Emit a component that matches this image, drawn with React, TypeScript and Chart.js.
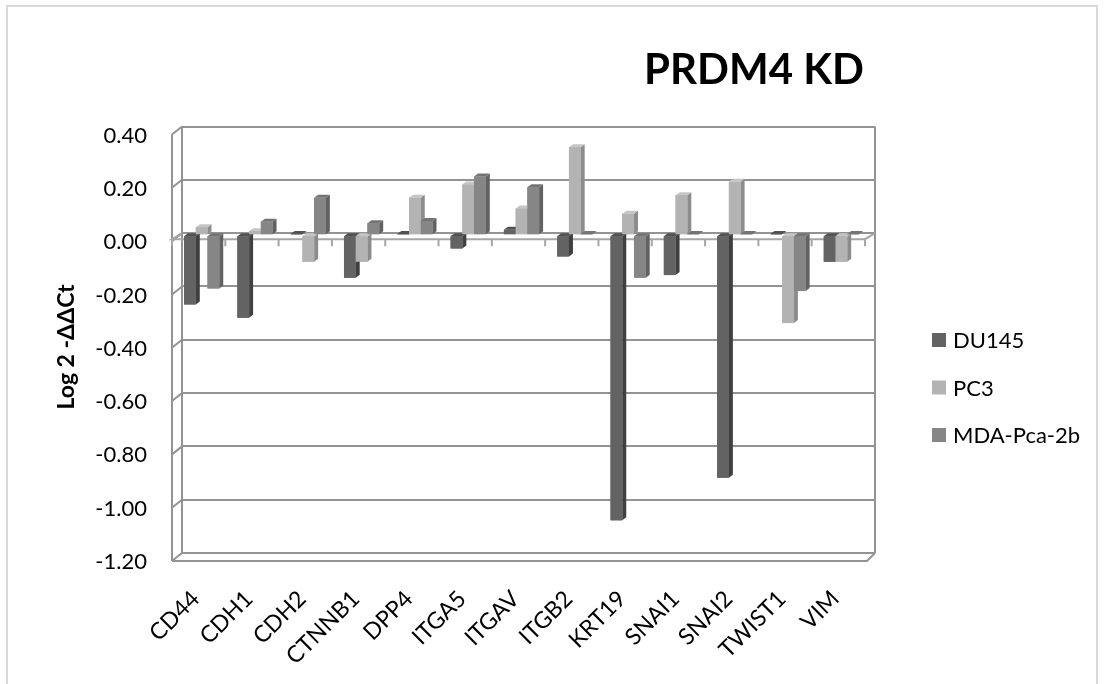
import React, { useEffect, useRef } from "react";
import { Chart, registerables } from "chart.js";

Chart.register(...registerables);

// ---- data ----
const genes = ["CD44", "CDH1", "CDH2", "CTNNB1", "DPP4", "ITGA5", "ITGAV", "ITGB2", "KRT19", "SNAI1", "SNAI2", "TWIST1", "VIM"];
const seriesNames = ["DU145", "PC3", "MDA-Pca-2b"];
const du145 = [-0.26, -0.31, 0.004, -0.16, 0.004, -0.05, 0.02, -0.08, -1.07, -0.15, -0.91, 0.004, -0.1];
const pc3 = [0.03, 0.015, -0.1, -0.1, 0.14, 0.19, 0.1, 0.33, 0.08, 0.15, 0.2, -0.33, -0.1];
const mda = [-0.2, 0.05, 0.14, 0.045, 0.053, 0.22, 0.18, 0.004, -0.16, 0.004, 0.004, -0.21, 0.004];
const yMin = -1.2;
const yMax = 0.4;
const yStep = 0.2;
const chartTitle = "PRDM4 KD";
const yAxisTitle = "Log 2 -ΔΔCt";

// ---- styling ----
const FRONT = ["#636363", "#b3b3b3", "#868686"];
const SIDE = ["#404040", "#8c8c8c", "#626262"];
const TOP = ["#525252", "#c6c6c6", "#747474"];
const GRID = "#939393";
const FONT = "Lato, 'Open Sans', sans-serif";

// depth of the side wall / floor (front plane offset from back wall)
const WALL_DX = -10;
const WALL_DY = 8;
const ZERO_DY = 6;
// bars sit between back wall and front plane
const BAR_DX = -7;
const BAR_DY = 2;
// extrusion of each bar toward the back
const EX = 4;
const EY = 3;

const seriesData = [du145, pc3, mda];

const threeD = {
  id: "threeD",
  beforeDraw(chart: any) {
    const { ctx } = chart;
    ctx.save();
    ctx.fillStyle = "#ffffff";
    ctx.fillRect(0, 0, chart.width, chart.height);
    ctx.strokeStyle = "#d9d9d9";
    ctx.lineWidth = 2;
    ctx.beginPath();
    ctx.moveTo(7, 700);
    ctx.lineTo(7, 6);
    ctx.lineTo(1097, 6);
    ctx.lineTo(1097, 700);
    ctx.stroke();
    ctx.restore();
  },
  beforeDatasetsDraw(chart: any) {
    const { ctx, chartArea } = chart;
    const y = chart.scales.y;
    const x = chart.scales.x;
    const { left, right, top, bottom } = chartArea;
    ctx.save();
    ctx.strokeStyle = GRID;
    ctx.lineWidth = 2;
    ctx.beginPath();
    // back wall side edges
    ctx.moveTo(left, top);
    ctx.lineTo(left, bottom);
    ctx.moveTo(right, top);
    ctx.lineTo(right, bottom);
    // left side wall
    ctx.moveTo(left + WALL_DX, top + WALL_DY);
    ctx.lineTo(left + WALL_DX, bottom + WALL_DY);
    y.ticks.forEach((t: any) => {
      const py = y.getPixelForValue(t.value);
      ctx.moveTo(left, py);
      ctx.lineTo(left + WALL_DX, py + WALL_DY);
    });
    // floor
    ctx.moveTo(left + WALL_DX, bottom + WALL_DY);
    ctx.lineTo(right + WALL_DX + 2, bottom + WALL_DY);
    ctx.lineTo(right, bottom);
    ctx.stroke();

    // zero plane with category ticks
    const y0 = y.getPixelForValue(0);
    ctx.strokeStyle = "#a6a6a6";
    ctx.beginPath();
    ctx.moveTo(left, y0);
    ctx.lineTo(left + WALL_DX, y0 + ZERO_DY);
    ctx.lineTo(right + WALL_DX, y0 + ZERO_DY);
    ctx.lineTo(right, y0);
    for (let k = 0; k <= genes.length; k++) {
      const px = x.getPixelForValue(k - 0.5) + WALL_DX;
      ctx.moveTo(px, y0 + ZERO_DY);
      ctx.lineTo(px, y0 + ZERO_DY + 7);
    }
    ctx.stroke();
    ctx.restore();

    // shift bars toward the viewer (restored after the datasets)
    ctx.save();
    ctx.translate(BAR_DX, BAR_DY);
  },
  afterDatasetsDraw(chart: any) {
    const { ctx } = chart;
    // draw extrusions and repaint fronts, series after series
    for (let d = 0; d < chart.data.datasets.length; d++) {
      const meta = chart.getDatasetMeta(d);
      meta.data.forEach((bar: any) => {
        const p = bar.getProps(["x", "y", "base", "width"], true);
        const x0 = p.x - p.width / 2;
        const x1 = p.x + p.width / 2;
        const yt = Math.min(p.y, p.base);
        const yb = Math.max(p.y, p.base);
        // side face
        ctx.fillStyle = SIDE[d];
        ctx.beginPath();
        ctx.moveTo(x1, yt);
        ctx.lineTo(x1 + EX, yt - EY);
        ctx.lineTo(x1 + EX, yb - EY);
        ctx.lineTo(x1, yb);
        ctx.closePath();
        ctx.fill();
        // top face
        ctx.fillStyle = TOP[d];
        ctx.beginPath();
        ctx.moveTo(x0, yt);
        ctx.lineTo(x0 + EX, yt - EY);
        ctx.lineTo(x1 + EX, yt - EY);
        ctx.lineTo(x1, yt);
        ctx.closePath();
        ctx.fill();
        // front face
        ctx.fillStyle = FRONT[d];
        ctx.fillRect(x0, yt, x1 - x0, Math.max(yb - yt, 0.5));
      });
    }
    ctx.restore();
  },
  afterDraw(chart: any) {
    const { ctx, chartArea } = chart;
    const y = chart.scales.y;
    const x = chart.scales.x;
    ctx.save();
    ctx.fillStyle = "#000000";

    // value axis labels on the front plane
    ctx.font = `22px ${FONT}`;
    ctx.textAlign = "right";
    ctx.textBaseline = "middle";
    y.ticks.forEach((t: any) => {
      ctx.fillText(t.label, 147, y.getPixelForValue(t.value) + WALL_DY + 1);
    });

    // category labels, rotated
    ctx.font = `23px ${FONT}`;
    chart.data.labels.forEach((lab: string, i: number) => {
      const px = x.getPixelForValue(i) + WALL_DX - 3;
      ctx.save();
      ctx.translate(px, chartArea.bottom + 42);
      ctx.rotate(-Math.PI / 4);
      ctx.textAlign = "right";
      ctx.textBaseline = "middle";
      ctx.fillText(lab, 0, 0);
      ctx.restore();
    });

    // axis title
    ctx.save();
    ctx.translate(67, 347);
    ctx.rotate(-Math.PI / 2);
    ctx.font = `bold 23px ${FONT}`;
    ctx.textAlign = "center";
    ctx.textBaseline = "middle";
    ctx.fillText(yAxisTitle, 0, 0);
    ctx.restore();

    // chart title
    ctx.font = `bold 42px ${FONT}`;
    ctx.textAlign = "center";
    ctx.textBaseline = "alphabetic";
    ctx.fillText(chartTitle, 754, 84);

    // legend
    ctx.font = `22px ${FONT}`;
    ctx.textAlign = "left";
    ctx.textBaseline = "middle";
    chart.data.datasets.forEach((ds: any, i: number) => {
      const cy = 340 + i * 47.5;
      ctx.fillStyle = FRONT[i];
      ctx.fillRect(932, cy - 7, 14, 14);
      ctx.fillStyle = "#000000";
      ctx.fillText(ds.label, 953, cy + 1);
    });
    ctx.restore();
  },
};

export default function App() {
  const ref = useRef<HTMLCanvasElement | null>(null);

  useEffect(() => {
    if (!ref.current) return;
    const chart = new Chart(ref.current, {
      type: "bar",
      data: {
        labels: genes,
        datasets: seriesNames.map((name, i) => ({
          label: name,
          data: seriesData[i],
          backgroundColor: FRONT[i],
          borderWidth: 0,
          categoryPercentage: 0.66,
          barPercentage: 1,
        })),
      },
      options: {
        animation: false,
        responsive: false,
        maintainAspectRatio: false,
        layout: { padding: { left: 182, right: 230, top: 126.5, bottom: 131 } },
        plugins: {
          legend: { display: false },
          title: { display: false },
          tooltip: { enabled: false },
        },
        scales: {
          x: {
            display: false,
          },
          y: {
            min: yMin,
            max: yMax,
            ticks: {
              display: false,
              stepSize: yStep,
              callback: (v: any) => Number(v).toFixed(2),
            },
            grid: { color: GRID, lineWidth: 2, drawTicks: false },
            border: { display: false },
          },
        },
      },
      plugins: [threeD],
    });
    return () => chart.destroy();
  }, []);

  return (
    <div style={{ position: "absolute", left: 0, top: 0, width: 1105, height: 684 }}>
      <canvas ref={ref} width={1105} height={684} style={{ width: 1105, height: 684, display: "block" }} />
    </div>
  );
}
